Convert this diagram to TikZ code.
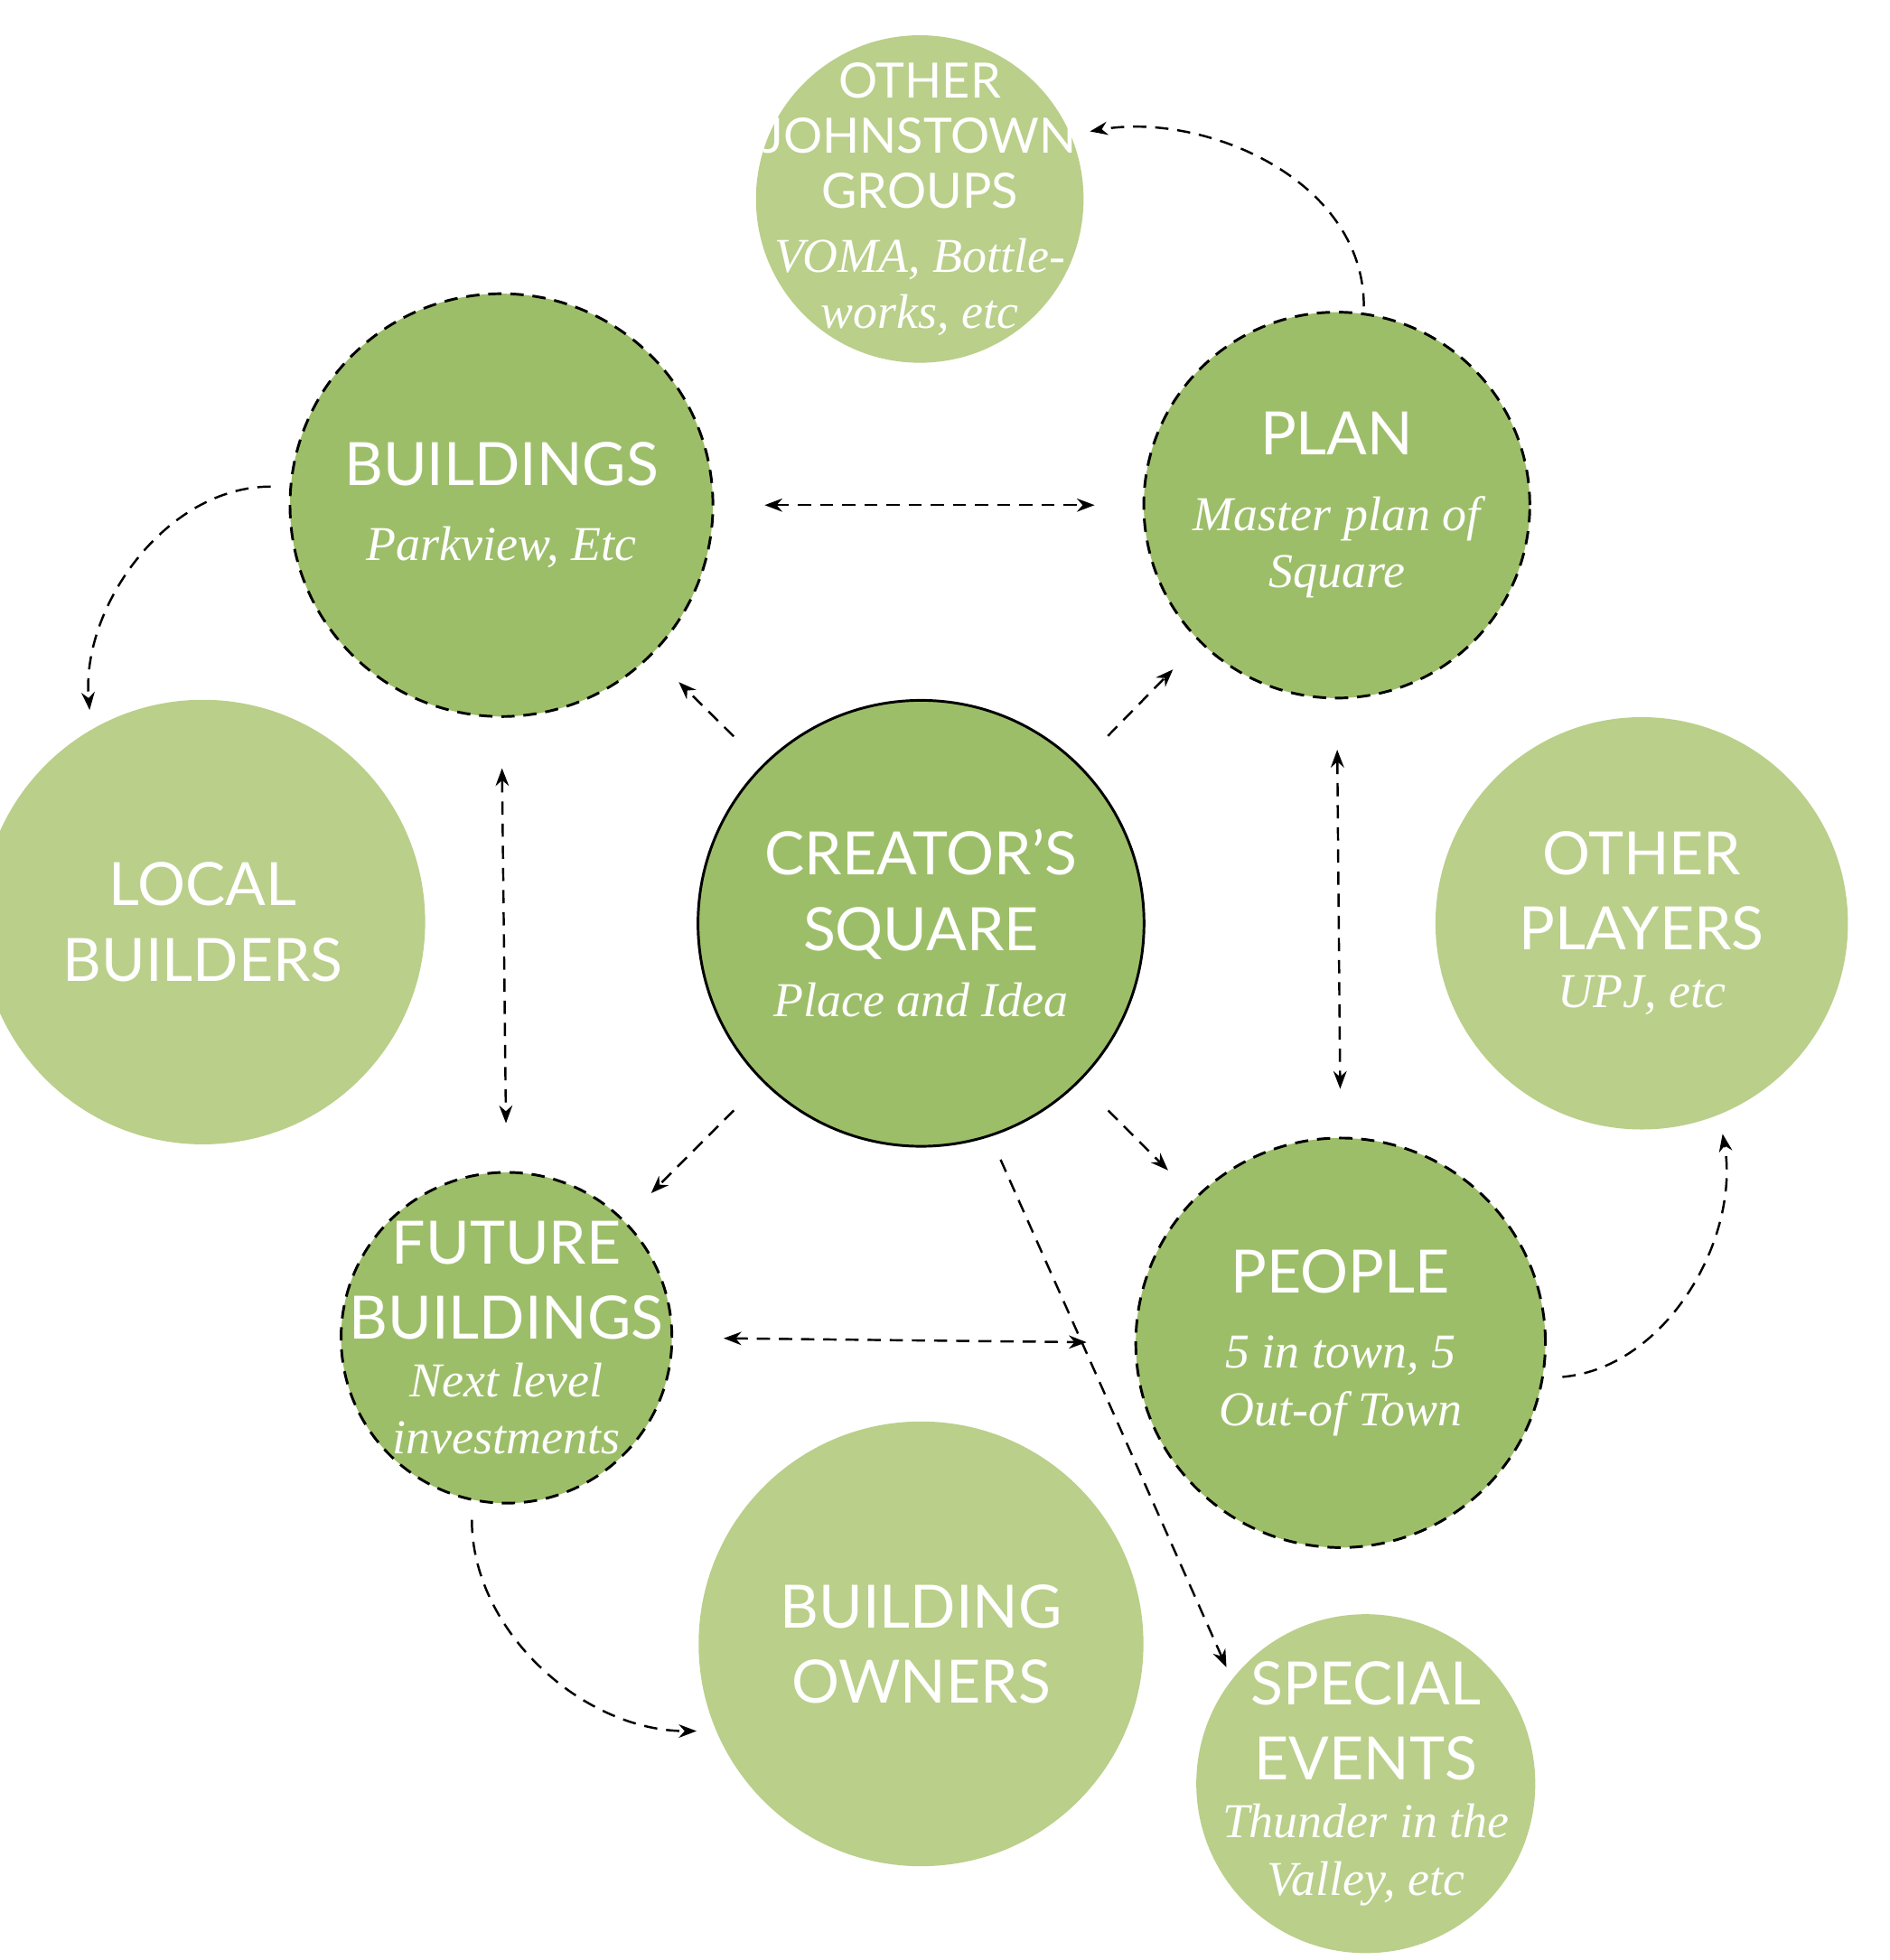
\documentclass[tikz,border=0pt]{standalone}
\usepackage{fontspec}
\setsansfont{Lato}
\setmainfont{Liberation Serif}
\usetikzlibrary{arrows.meta}
\definecolor{darkleaf}{HTML}{9DBE69}
\definecolor{paleleaf}{HTML}{BACF8A}
\tikzset{
  hub/.style={circle, fill=darkleaf, draw=black, line width=0.6pt, minimum size=3.54cm, inner sep=-2cm, align=center, text=white},
  core/.style={circle, fill=darkleaf, draw=black, dashed, dash pattern=on 3pt off 2pt, line width=0.6pt, minimum size=2.6cm, inner sep=-2cm, align=center, text=white},
  outer/.style={circle, fill=paleleaf, minimum size=2.6cm, inner sep=-2cm, align=center, text=white},
  big/.style={font=\sffamily\fontsize{13.5}{17}\selectfont},
  link/.style={densely dashed, line width=0.5pt, -{Stealth[length=4pt,width=3pt]}, shorten >=0.3cm, shorten <=0.32cm},
  both/.style={link, {Stealth[length=4pt,width=3pt]}-{Stealth[length=4pt,width=3pt]}, shorten >=0.38cm, shorten <=0.4cm}
}
\newcommand{\subtxt}{\rmfamily\itshape\fontsize{11}{12.5}\selectfont}
\begin{document}
\begin{tikzpicture}
\useasboundingbox (0,0) rectangle (15,-15.56);

% centre
\node[hub, big] (ctr) at (7.31,-7.33) {CREATOR'S\\SQUARE\\[-2pt]\subtxt Place and Idea};

% inner ring
\node[core, big] (bld) at (3.98,-4.01) {BUILDINGS\\[0pt]\subtxt Parkview, Etc};
\node[core, big] (pln) at (10.61,-4.01) {PLAN\\[0pt]\subtxt Master plan of\\[-4pt]\subtxt Square};
\node[core, big] (fbd) at (4.02,-10.62) {FUTURE\\BUILDINGS\\[-4pt]\subtxt Next level\\[-4pt]\subtxt investments};
\node[core, big] (ppl) at (10.64,-10.66) {PEOPLE\\[0pt]\subtxt 5 in town, 5\\[-4pt]\subtxt Out-of Town};

% outer ring
\node[outer, font=\sffamily\fontsize{11}{12.5}\selectfont] (ojg) at (7.30,-1.58) {OTHER\\JOHNSTOWN\\GROUPS\\[2pt]\subtxt VOMA, Bottle-\\\subtxt works, etc};
\node[outer, big] (lcb) at (1.61,-7.32) {LOCAL\\BUILDERS};
\node[outer, big] (opl) at (13.03,-7.33) {OTHER\\PLAYERS\\[-4pt]\subtxt UPJ, etc};
\node[outer, big] (bow) at (7.31,-13.05) {BUILDING\\OWNERS};
\node[outer, big] (sev) at (10.84,-14.16) {SPECIAL\\EVENTS\\[-4pt]\subtxt Thunder in the\\[-4pt]\subtxt Valley, etc};

% links from the centre
\draw[link] (ctr.135) -- (bld.-45);
\draw[link] (ctr.45) -- (pln.-135);
\draw[link] (ctr.-135) -- (fbd.45);
\draw[link] (ctr.-45) -- (ppl.135);
\draw[link, shorten <=0.2cm, shorten >=0.1cm] (ctr.-72) -- (sev.142);

% ring links
\draw[both] (bld.east) -- (pln.west);
\draw[both] (fbd.east) -- (ppl.west);
\draw[both] (bld.south) -- (fbd.north);
\draw[both] (pln.south) -- (ppl.north);

% curved links
\draw[link, shorten <=0.05cm, shorten >=0.15cm] (pln.82) to[out=90,in=10] (ojg.23);
\draw[link, shorten <=0.15cm, shorten >=0.15cm] (bld.175) to[out=180,in=95] (lcb.120);
\draw[link, shorten <=0.15cm, shorten >=0.15cm] (ppl.-10) to[out=5,in=-80] (opl.-68);
\draw[link, shorten <=0.15cm, shorten >=0.15cm] (fbd.-102) to[out=-90,in=180] (bow.203);
\end{tikzpicture}
\end{document}
